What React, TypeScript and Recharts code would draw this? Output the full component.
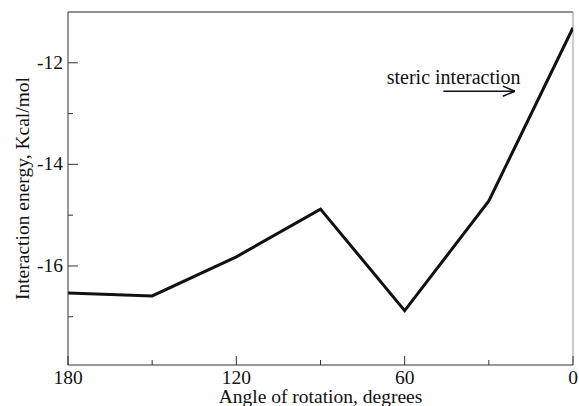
import React from "react";
import { LineChart, Line, XAxis, YAxis, ReferenceLine, ReferenceDot } from "recharts";

const angles = [180, 150, 120, 90, 60, 30, 0];
const energies = [-16.53, -16.59, -15.82, -14.88, -16.88, -14.72, -11.31];
const xTicks = [180, 150, 120, 90, 60, 30, 0];
const xLabeled = [180, 120, 60, 0];
const yTicks = [-17, -16, -15, -14, -13, -12];
const yLabeled = [-16, -14, -12];

const data = angles.map((a, i) => ({ angle: a, energy: energies[i] }));

const FONT = "'Liberation Serif', 'DejaVu Serif', serif";
const AXIS = "#333";

const XTick = (props: any) => {
  const { x, y, payload } = props;
  const major = xLabeled.includes(payload.value);
  return (
    <g>
      <line x1={x} x2={x} y1={y} y2={y - (major ? 9 : 5)} stroke={AXIS} strokeWidth={1} />
      {major && (
        <text x={x} y={y + 19} textAnchor="middle" fontFamily={FONT} fontSize={19.5} fill="#111">
          {payload.value}
        </text>
      )}
    </g>
  );
};

const YTick = (props: any) => {
  const { x, y, payload } = props;
  const major = yLabeled.includes(payload.value);
  return (
    <g>
      <line x1={x} x2={x + (major ? 10 : 5)} y1={y} y2={y} stroke={AXIS} strokeWidth={1} />
      {major && (
        <text x={x - 5} y={y + 6} textAnchor="end" fontFamily={FONT} fontSize={19.5} fill="#111">
          {payload.value}
        </text>
      )}
    </g>
  );
};

const StericLabel = (props: any) => {
  const { viewBox } = props;
  return (
    <text x={viewBox.x + viewBox.width / 2} y={viewBox.y + viewBox.height / 2} fontFamily={FONT} fontSize={20} fill="#111">
      steric interaction
    </text>
  );
};

export default function App() {
  return (
    <div style={{ position: "absolute", left: 0, top: 0, background: "#fff" }}>
      <LineChart width={579} height={406} data={data} margin={{ top: 12, right: 6, left: 0, bottom: 0 }}>
        <XAxis
          dataKey="angle"
          type="number"
          domain={[0, 180]}
          reversed
          ticks={xTicks}
          interval={0}
          tickSize={0}
          tickMargin={0}
          tickLine={false}
          tick={<XTick />}
          height={41}
          axisLine={{ stroke: AXIS }}
          allowDataOverflow
          label={{ value: "Angle of rotation, degrees", position: "insideBottom", offset: 3, fontFamily: FONT, fontSize: 19.5, fill: "#111" }}
        />
        <YAxis
          type="number"
          domain={[-17.95, -11]}
          ticks={yTicks}
          interval={0}
          tickSize={0}
          tickMargin={0}
          tickLine={false}
          tick={<YTick />}
          width={68}
          axisLine={{ stroke: AXIS }}
          allowDataOverflow
          label={{ value: "Interaction energy, Kcal/mol", angle: -90, position: "insideLeft", offset: 22, fontFamily: FONT, fontSize: 19.5, fill: "#111", style: { textAnchor: "middle" } }}
        />
        <ReferenceLine y={-11} stroke="#222" strokeWidth={1} />
        <ReferenceLine x={0} stroke="#999" strokeWidth={1} />
        <ReferenceLine segment={[{ x: 46.2, y: -12.56 }, { x: 20.7, y: -12.56 }]} stroke="#111" strokeWidth={1.5} />
        <ReferenceLine segment={[{ x: 25.0, y: -12.46 }, { x: 20.7, y: -12.56 }]} stroke="#111" strokeWidth={1.5} />
        <ReferenceLine segment={[{ x: 25.0, y: -12.66 }, { x: 20.7, y: -12.56 }]} stroke="#111" strokeWidth={1.5} />
        <ReferenceDot x={66.4} y={-12.41} r={0} fill="none" stroke="none" label={<StericLabel />} />
        <Line
          type="linear"
          dataKey="energy"
          stroke="#111"
          strokeWidth={3}
          dot={false}
          isAnimationActive={false}
        />
      </LineChart>
    </div>
  );
}
